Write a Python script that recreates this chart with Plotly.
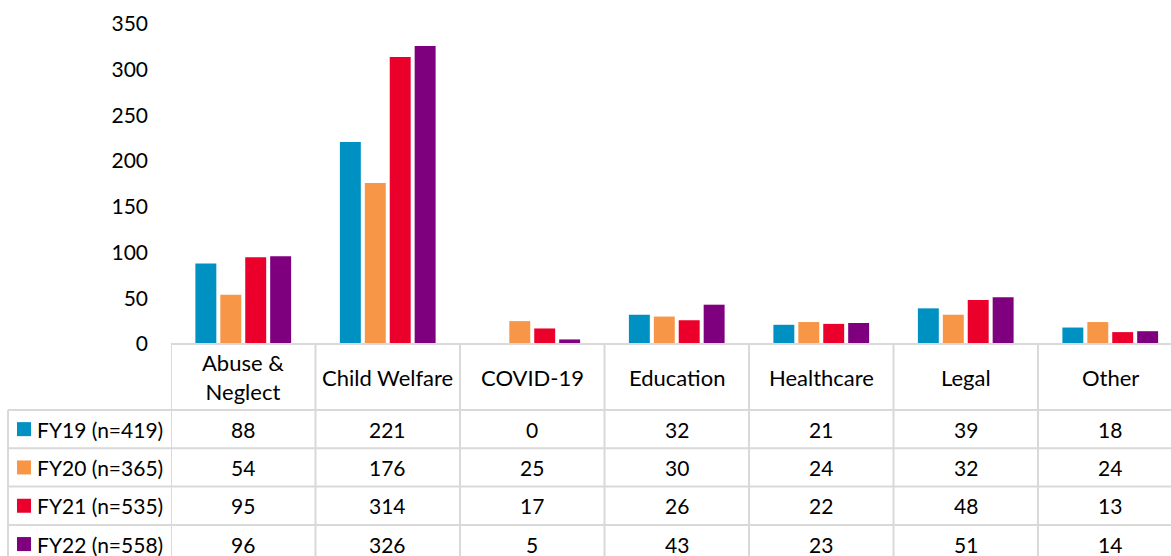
import plotly.graph_objects as go

# data
categories = ["Abuse &<br>Neglect", "Child Welfare", "COVID-19", "Education",
              "Healthcare", "Legal", "Other"]
series_names = ["FY19 (n=419)", "FY20 (n=365)", "FY21 (n=535)", "FY22 (n=558)"]
fy19 = [88, 221, 0, 32, 21, 39, 18]
fy20 = [54, 176, 25, 30, 24, 32, 24]
fy21 = [95, 314, 17, 26, 22, 48, 13]
fy22 = [96, 326, 5, 43, 23, 51, 14]
y_ticks = [0, 50, 100, 150, 200, 250, 300, 350]

# plotting constants (page pixels)
W, H = 1171, 556
PLOT_LEFT = 171
LEGEND_LEFT = 8
COL_W = 144.5
ZERO_Y = 344
TOP_Y = 24
HEADER_BOT = 410
ROW_H = 38.3
SWATCH = 14

COLOURS = ["#0091C3", "#F79646", "#EA002B", "#7F007F"]
GRID = "#D9D9D9"
FONT = "Lato"


def py(pix):
    # pixel row -> paper y
    return 1 - pix / H


def px(pix):
    return pix / W


series = [fy19, fy20, fy21, fy22]
x_idx = list(range(len(categories)))
x_max = -0.5 + (W - PLOT_LEFT) / COL_W

fig = go.Figure()

for name, vals, col in zip(series_names, series, COLOURS):
    fig.add_trace(
        go.Bar(
            x=x_idx,
            y=vals,
            name=name,
            marker=dict(color=col, line=dict(width=0)),
        )
    )

shapes = []
annotations = []

# table top border (x axis line)
shapes.append(dict(type="line", xref="x", yref="paper", x0=-0.5, x1=x_max + 0.2,
                   y0=py(ZERO_Y), y1=py(ZERO_Y), line=dict(color=GRID, width=2)))

# row borders
row_lines = [HEADER_BOT + i * ROW_H for i in range(len(series_names))]
for yl in row_lines:
    shapes.append(dict(type="line", xref="paper", yref="paper", x0=px(LEGEND_LEFT), x1=1,
                       y0=py(yl), y1=py(yl), line=dict(color=GRID, width=2)))

# column borders
for i in range(len(categories) + 1):
    shapes.append(dict(type="line", xref="x", yref="paper", x0=i - 0.5, x1=i - 0.5,
                       y0=py(ZERO_Y), y1=0, line=dict(color=GRID, width=2)))
shapes.append(dict(type="line", xref="paper", yref="paper", x0=px(LEGEND_LEFT), x1=px(LEGEND_LEFT),
                   y0=py(HEADER_BOT), y1=0, line=dict(color=GRID, width=2)))

# header cells
for i, cat in enumerate(categories):
    annotations.append(dict(x=i, y=py((ZERO_Y + HEADER_BOT) / 2), xref="x", yref="paper",
                            text=cat, showarrow=False, xanchor="center", yanchor="middle",
                            font=dict(family=FONT, size=22, color="black")))

# data rows
for r, (name, vals, col) in enumerate(zip(series_names, series, COLOURS)):
    yc_pix = HEADER_BOT + (r + 0.5) * ROW_H
    yc = py(yc_pix)
    # legend key swatch
    shapes.append(dict(type="rect", xref="paper", yref="paper",
                       x0=px(LEGEND_LEFT + 9), x1=px(LEGEND_LEFT + 9 + SWATCH),
                       y0=py(yc_pix + SWATCH / 2), y1=py(yc_pix - SWATCH / 2),
                       fillcolor=col, line=dict(width=0)))
    annotations.append(dict(x=px(LEGEND_LEFT + 27), y=yc, xref="paper", yref="paper",
                            text=name, showarrow=False, xanchor="left", yanchor="middle",
                            font=dict(family=FONT, size=21, color="black")))
    for i, v in enumerate(vals):
        annotations.append(dict(x=i, y=yc, xref="x", yref="paper", text=str(v),
                                showarrow=False, xanchor="center", yanchor="middle",
                                font=dict(family=FONT, size=21, color="black")))

fig.update_layout(
    width=W,
    height=H,
    margin=dict(l=0, r=0, t=0, b=0, pad=0),
    paper_bgcolor="white",
    plot_bgcolor="white",
    barmode="group",
    bargap=0.31,
    bargroupgap=0.16,
    showlegend=False,
    shapes=shapes,
    annotations=annotations,
    font=dict(family=FONT, size=21, color="black"),
    xaxis=dict(domain=[px(PLOT_LEFT), 1], range=[-0.5, x_max], showticklabels=False,
               showgrid=False, zeroline=False, showline=False, ticks="", automargin=False),
    yaxis=dict(domain=[py(ZERO_Y), py(TOP_Y)], range=[0, 350], tickvals=y_ticks,
               showgrid=False, zeroline=False, showline=False, ticks="", automargin=False,
               ticklabelstandoff=22, tickfont=dict(family=FONT, size=21, color="black")),
)

# drop the default page margin so the figure sits at the window origin
fig.write_html(
    "out.html",
    config={"displayModeBar": False},
    post_script="document.body.style.margin='0';document.documentElement.style.overflow='hidden';",
)
